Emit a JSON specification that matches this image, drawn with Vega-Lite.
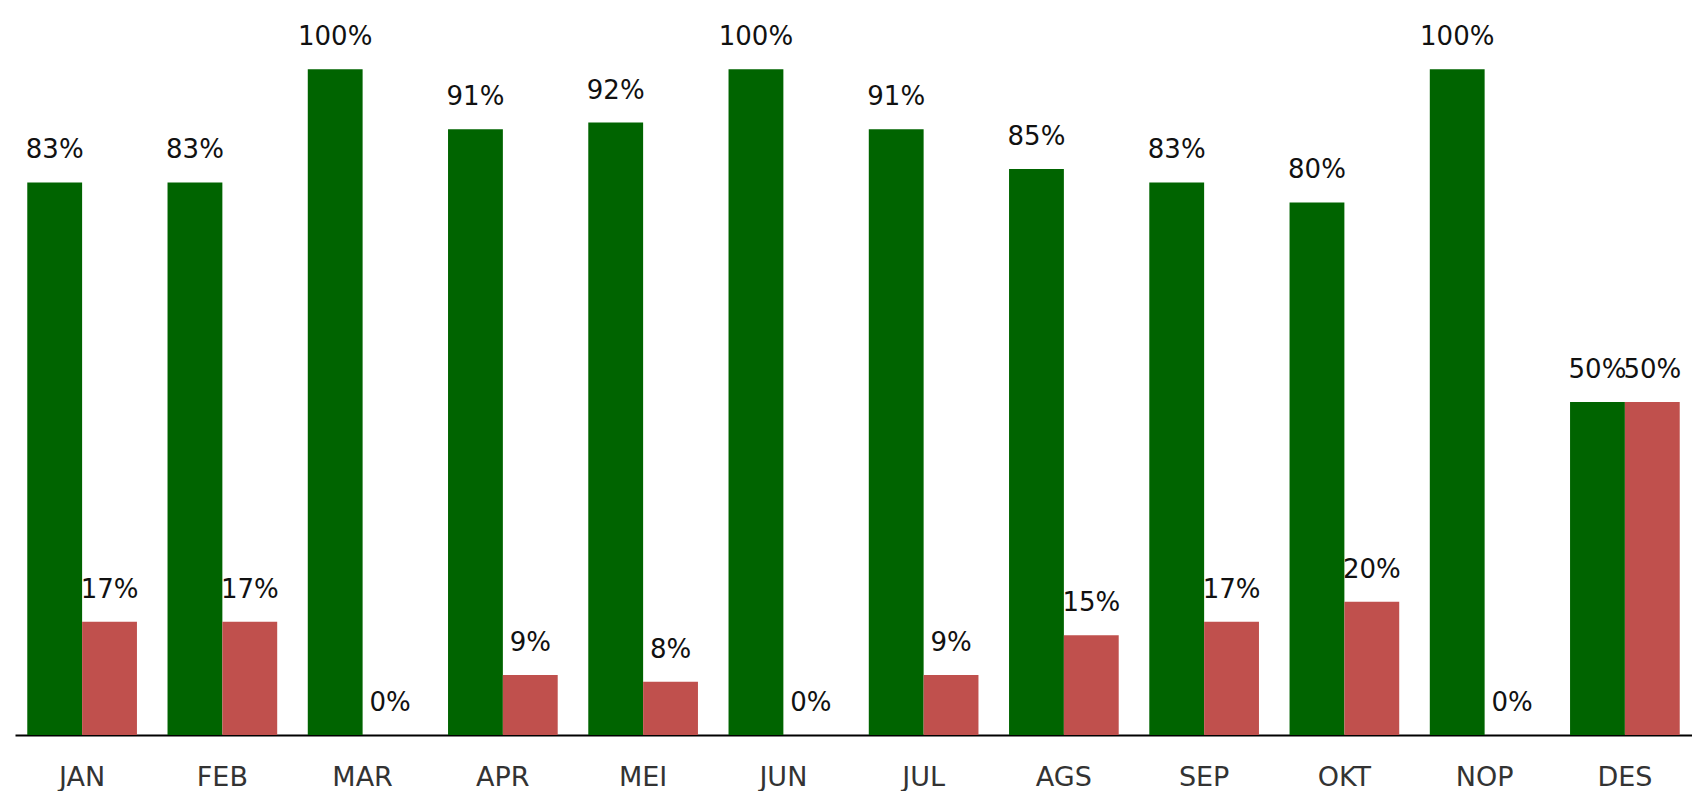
{
  "$schema": "https://vega.github.io/schema/vega-lite/v6.json",
  "width": 1677,
  "height": 735,
  "autosize": {"type": "none"},
  "padding": {"left": 15, "top": 0, "right": 0, "bottom": 56},
  "background": "white",
  "data": {
    "values": [
      {"bulan": "JAN", "seri": "Hijau", "nilai": 0.83},
      {"bulan": "JAN", "seri": "Merah", "nilai": 0.17},
      {"bulan": "FEB", "seri": "Hijau", "nilai": 0.83},
      {"bulan": "FEB", "seri": "Merah", "nilai": 0.17},
      {"bulan": "MAR", "seri": "Hijau", "nilai": 1.0},
      {"bulan": "MAR", "seri": "Merah", "nilai": 0.0},
      {"bulan": "APR", "seri": "Hijau", "nilai": 0.91},
      {"bulan": "APR", "seri": "Merah", "nilai": 0.09},
      {"bulan": "MEI", "seri": "Hijau", "nilai": 0.92},
      {"bulan": "MEI", "seri": "Merah", "nilai": 0.08},
      {"bulan": "JUN", "seri": "Hijau", "nilai": 1.0},
      {"bulan": "JUN", "seri": "Merah", "nilai": 0.0},
      {"bulan": "JUL", "seri": "Hijau", "nilai": 0.91},
      {"bulan": "JUL", "seri": "Merah", "nilai": 0.09},
      {"bulan": "AGS", "seri": "Hijau", "nilai": 0.85},
      {"bulan": "AGS", "seri": "Merah", "nilai": 0.15},
      {"bulan": "SEP", "seri": "Hijau", "nilai": 0.83},
      {"bulan": "SEP", "seri": "Merah", "nilai": 0.17},
      {"bulan": "OKT", "seri": "Hijau", "nilai": 0.80},
      {"bulan": "OKT", "seri": "Merah", "nilai": 0.20},
      {"bulan": "NOP", "seri": "Hijau", "nilai": 1.0},
      {"bulan": "NOP", "seri": "Merah", "nilai": 0.0},
      {"bulan": "DES", "seri": "Hijau", "nilai": 0.50},
      {"bulan": "DES", "seri": "Merah", "nilai": 0.50}
    ]
  },
  "encoding": {
    "x": {
      "field": "bulan",
      "type": "nominal",
      "sort": ["JAN", "FEB", "MAR", "APR", "MEI", "JUN", "JUL", "AGS", "SEP", "OKT", "NOP", "DES"],
      "scale": {"paddingInner": 0.218, "paddingOuter": 0.0875},
      "axis": {
        "title": null,
        "labelAngle": 0,
        "domain": true,
        "domainColor": "#000000",
        "domainWidth": 2,
        "ticks": false,
        "grid": false,
        "labelFont": "DejaVu Sans",
        "labelFontSize": 27,
        "labelColor": "#333333",
        "labelPadding": 29
      }
    },
    "xOffset": {
      "field": "seri",
      "type": "nominal",
      "sort": ["Hijau", "Merah"],
      "scale": {"paddingInner": 0, "paddingOuter": 0}
    },
    "y": {
      "field": "nilai",
      "type": "quantitative",
      "scale": {"domain": [0, 1.104], "nice": false, "zero": true},
      "axis": null
    }
  },
  "layer": [
    {
      "mark": {"type": "bar"},
      "encoding": {
        "color": {
          "field": "seri",
          "type": "nominal",
          "scale": {"domain": ["Hijau", "Merah"], "range": ["#006400", "#c0504d"]},
          "legend": null
        }
      }
    },
    {
      "mark": {
        "type": "text",
        "dy": -24,
        "baseline": "alphabetic",
        "font": "DejaVu Sans",
        "fontSize": 26,
        "color": "#111111"
      },
      "encoding": {
        "text": {"field": "nilai", "type": "quantitative", "format": ".0%"}
      }
    }
  ],
  "config": {"view": {"stroke": null}}
}
